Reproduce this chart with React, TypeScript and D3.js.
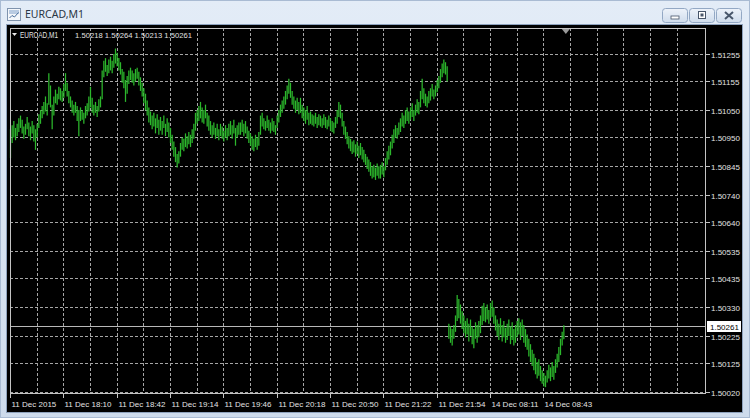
import React from "react";
import * as d3 from "d3";

// ---- data ----
const windowTitle = "EURCAD,M1";
const symbolName = "EURCAD,M1";
const lastOHLC = [1.50218, 1.50264, 1.50213, 1.50261];
const lastPrice = 1.50261;

const priceTicks = [
  1.51255, 1.51155, 1.5105, 1.5095, 1.50845, 1.5074, 1.5064, 1.50535, 1.50435, 1.5033, 1.50225, 1.50125, 1.5002,
];

const timeLabels = [
  "11 Dec 2015", "11 Dec 18:10", "11 Dec 18:42", "11 Dec 19:14", "11 Dec 19:46", "11 Dec 20:18",
  "11 Dec 20:50", "11 Dec 21:22", "11 Dec 21:54", "14 Dec 08:11", "14 Dec 08:43",
];
const barsPerLabel = 32;
const barsPerGrid = 16;
const visibleBars = 417.6;

const highs = [
  1.50980,1.50995,1.51010,1.50985,1.51000,1.51020,
  1.51030,1.51015,1.50990,1.51000,1.51025,1.51005,
  1.50990,1.51010,1.50995,1.50980,1.51000,1.51035,
  1.51050,1.51065,1.51080,1.51100,1.51075,1.51185,
  1.51140,1.51070,1.51100,1.51125,1.51110,1.51135,
  1.51130,1.51120,1.51145,1.51185,1.51150,1.51120,
  1.51100,1.51085,1.51070,1.51080,1.51065,1.51050,
  1.51060,1.51050,1.51040,1.51065,1.51075,1.51100,
  1.51135,1.51095,1.51070,1.51080,1.51065,1.51090,
  1.51100,1.51195,1.51230,1.51240,1.51215,1.51235,
  1.51245,1.51230,1.51255,1.51275,1.51260,1.51240,
  1.51225,1.51200,1.51190,1.51160,1.51175,1.51195,
  1.51205,1.51195,1.51185,1.51200,1.51205,1.51190,
  1.51170,1.51150,1.51130,1.51110,1.51085,1.51060,
  1.51045,1.51030,1.51040,1.51020,1.51035,1.51015,
  1.51025,1.51010,1.51030,1.51000,1.51020,1.51005,
  1.50985,1.50960,1.50935,1.50915,1.50890,1.50900,
  1.50930,1.50950,1.50945,1.50965,1.50955,1.50970,
  1.50960,1.50980,1.51000,1.51040,1.51050,1.51065,
  1.51080,1.51060,1.51050,1.51070,1.51040,1.51030,
  1.51010,1.50995,1.51005,1.50985,1.51000,1.50980,
  1.51000,1.50990,1.50975,1.50995,1.50985,1.51000,
  1.51010,1.50995,1.51015,1.50985,1.50995,1.51005,
  1.51005,1.51015,1.51000,1.51010,1.50990,1.50975,
  1.50965,1.50955,1.50945,1.50960,1.50950,1.50970,
  1.51030,1.51040,1.51020,1.51010,1.51030,1.51015,
  1.51005,1.51020,1.51010,1.50995,1.51030,1.51050,
  1.51070,1.51085,1.51100,1.51120,1.51140,1.51165,
  1.51150,1.51120,1.51100,1.51085,1.51095,1.51080,
  1.51095,1.51070,1.51060,1.51050,1.51065,1.51040,
  1.51045,1.51035,1.51030,1.51040,1.51025,1.51035,
  1.51030,1.51020,1.51035,1.51025,1.51015,1.51030,
  1.51020,1.51010,1.51005,1.51025,1.51050,1.51080,
  1.51070,1.51040,1.51010,1.50990,1.50970,1.50955,
  1.50945,1.50935,1.50940,1.50925,1.50935,1.50920,
  1.50930,1.50915,1.50905,1.50890,1.50880,1.50870,
  1.50860,1.50845,1.50850,1.50840,1.50855,1.50845,
  1.50850,1.50860,1.50845,1.50875,1.50900,1.50920,
  1.50935,1.50960,1.50980,1.50995,1.50985,1.51005,
  1.51020,1.51040,1.51030,1.51050,1.51060,1.51045,
  1.51060,1.51075,1.51050,1.51070,1.51090,1.51080,
  1.51120,1.51165,1.51130,1.51110,1.51100,1.51120,
  1.51130,1.51145,1.51125,1.51140,1.51160,1.51175,
  1.51200,1.51220,1.51235,1.51225,1.51210,
  1.50270,1.50260,1.50250,1.50265,1.50300,1.50375,1.50360,1.50340,1.50315,1.50300,
  1.50280,1.50290,1.50270,1.50285,1.50260,1.50250,1.50275,1.50265,1.50280,1.50300,
  1.50335,1.50345,1.50330,1.50340,1.50320,1.50345,1.50355,1.50330,1.50300,1.50285,
  1.50270,1.50290,1.50265,1.50280,1.50255,1.50270,1.50285,1.50260,1.50275,1.50250,
  1.50265,1.50280,1.50290,1.50275,1.50285,1.50265,1.50250,1.50230,1.50215,1.50195,
  1.50175,1.50160,1.50145,1.50130,1.50140,1.50115,1.50100,1.50090,1.50080,1.50100,
  1.50120,1.50110,1.50130,1.50115,1.50140,1.50160,1.50185,1.50215,1.50240,1.50264,
];

const lows = [
  1.50875,1.50930,1.50950,1.50940,1.50955,1.50970,
  1.50985,1.50965,1.50945,1.50960,1.50980,1.50955,
  1.50940,1.50965,1.50935,1.50905,1.50950,1.50985,
  1.51000,1.51020,1.51035,1.51045,1.51030,1.51070,
  1.51060,1.50980,1.51030,1.51075,1.51070,1.51090,
  1.51085,1.51080,1.51095,1.51120,1.51100,1.51075,
  1.51060,1.51040,1.51030,1.51040,1.51010,1.50955,
  1.51010,1.51015,1.51000,1.51020,1.51030,1.51045,
  1.51060,1.51040,1.51030,1.51040,1.51025,1.51045,
  1.51060,1.51090,1.51170,1.51190,1.51175,1.51185,
  1.51195,1.51185,1.51205,1.51220,1.51210,1.51195,
  1.51180,1.51150,1.51130,1.51080,1.51110,1.51145,
  1.51160,1.51150,1.51140,1.51155,1.51165,1.51140,
  1.51120,1.51100,1.51075,1.51050,1.51030,1.51005,
  1.50995,1.50980,1.50990,1.50965,1.50985,1.50960,
  1.50975,1.50960,1.50985,1.50955,1.50970,1.50950,
  1.50930,1.50905,1.50880,1.50860,1.50840,1.50855,
  1.50880,1.50905,1.50900,1.50915,1.50910,1.50925,
  1.50915,1.50930,1.50945,1.50975,1.51000,1.51010,
  1.51020,1.51005,1.51000,1.51020,1.50990,1.50975,
  1.50960,1.50950,1.50960,1.50945,1.50955,1.50940,
  1.50955,1.50945,1.50935,1.50950,1.50940,1.50955,
  1.50960,1.50945,1.50965,1.50920,1.50950,1.50960,
  1.50960,1.50970,1.50955,1.50965,1.50945,1.50930,
  1.50920,1.50905,1.50900,1.50915,1.50905,1.50920,
  1.50960,1.50990,1.50980,1.50975,1.50985,1.50975,
  1.50965,1.50975,1.50970,1.50960,1.50985,1.51005,
  1.51025,1.51040,1.51055,1.51070,1.51090,1.51110,
  1.51095,1.51070,1.51055,1.51040,1.51050,1.51035,
  1.51040,1.51020,1.51010,1.51000,1.51015,1.50995,
  1.51000,1.50995,1.50990,1.51000,1.50985,1.50995,
  1.50990,1.50985,1.50995,1.50985,1.50980,1.50990,
  1.50975,1.50970,1.50965,1.50985,1.51000,1.51025,
  1.51020,1.50990,1.50960,1.50945,1.50925,1.50910,
  1.50900,1.50890,1.50895,1.50880,1.50890,1.50875,
  1.50885,1.50870,1.50860,1.50850,1.50835,1.50825,
  1.50810,1.50800,1.50805,1.50795,1.50810,1.50800,
  1.50800,1.50815,1.50805,1.50830,1.50850,1.50870,
  1.50885,1.50910,1.50930,1.50950,1.50945,1.50960,
  1.50970,1.50990,1.50985,1.51000,1.51010,1.51000,
  1.51015,1.51025,1.51010,1.51030,1.51040,1.51035,
  1.51060,1.51090,1.51075,1.51065,1.51060,1.51075,
  1.51085,1.51100,1.51090,1.51100,1.51115,1.51130,
  1.51150,1.51170,1.51185,1.51180,1.51155,
  1.50215,1.50200,1.50190,1.50215,1.50240,1.50280,1.50290,1.50270,1.50250,1.50235,
  1.50220,1.50230,1.50205,1.50225,1.50195,1.50180,1.50215,1.50200,1.50220,1.50235,
  1.50265,1.50280,1.50275,1.50285,1.50270,1.50290,1.50295,1.50270,1.50245,1.50225,
  1.50210,1.50230,1.50205,1.50220,1.50200,1.50210,1.50225,1.50195,1.50210,1.50190,
  1.50200,1.50220,1.50230,1.50210,1.50225,1.50200,1.50185,1.50175,1.50150,1.50130,
  1.50115,1.50100,1.50085,1.50070,1.50080,1.50060,1.50050,1.50040,1.50038,1.50055,
  1.50070,1.50060,1.50075,1.50065,1.50090,1.50110,1.50130,1.50155,1.50190,1.50213,
];

const FONT = "'Liberation Sans', Arial, sans-serif";

export default function App() {
  const W = 750;
  const H = 418;
  const P = { left: 10, right: 706, top: 28, bottom: 394 };

  const x = d3.scaleLinear().domain([0, visibleBars]).range([P.left, P.right]);
  const y = d3.scaleLinear().domain([1.50013, 1.5135]).range([P.bottom, P.top]);

  const gridBars = d3.range(barsPerGrid, visibleBars - 2, barsPerGrid);
  const bars = highs.map((h, i) => ({ i, h, l: lows[i] }));
  const lastIndex = highs.length - 1;
  const shiftX = x(lastIndex) + 2.5;
  const yLast = Math.round(y(lastPrice)) + 0.5;

  const gridColor = "#a6a6a6";
  const textColor = "#e2e2e2";

  return (
    <div style={{ position: "fixed", left: 0, top: 0, width: W, height: H }}>
      <svg width={W} height={H} style={{ display: "block" }}>
        <defs>
          <linearGradient id="frame" x1="0" y1="0" x2="0" y2="1">
            <stop offset="0" stopColor="#e3ecf7" />
            <stop offset="1" stopColor="#cddbec" />
          </linearGradient>
          <linearGradient id="btn" x1="0" y1="0" x2="0" y2="1">
            <stop offset="0" stopColor="#eef3fa" />
            <stop offset="1" stopColor="#cfdcec" />
          </linearGradient>
        </defs>
        {/* window frame */}
        <rect x={0} y={0} width={W} height={H} fill="url(#frame)" />
        <rect x={0.5} y={0.5} width={W - 1} height={H - 1} fill="none" stroke="#a9bbd3" />
        {/* title icon */}
        <g>
          <rect x={7.5} y={8.5} width={13} height={12} fill="#f4f7fb" stroke="#7f93ad" />
          <rect x={9} y={10} width={10} height={4} fill="#b9cbe2" />
          <path d="M9.5 18 L12 15.5 L14.5 17 L18.5 12.5" fill="none" stroke="#4b6f9c" strokeWidth={1} />
        </g>
        <text x={25} y={18} fontFamily="'Noto Sans', 'Open Sans', sans-serif" fontSize={10.5} fill="#2a3645">
          {windowTitle}
        </text>
        {/* window buttons */}
        {[662, 689, 716].map((bx, k) => (
          <g key={k}>
            <rect x={bx + 0.5} y={8.5} width={25} height={14} rx={3} fill="url(#btn)" stroke="#93a8c4" />
            {k === 0 && <rect x={bx + 9} y={16} width={8} height={3} fill="#fff" stroke="#48566a" strokeWidth={0.8} />}
            {k === 1 && <rect x={bx + 9.5} y={11.5} width={7} height={7} fill="#fff" stroke="#48566a" strokeWidth={1} />}
            {k === 1 && <rect x={bx + 11.5} y={13.5} width={3} height={3} fill="#48566a" />}
            {k === 2 && (
              <path d={`M${bx + 9} ${12} L${bx + 17} ${19} M${bx + 17} ${12} L${bx + 9} ${19}`} stroke="#48566a" strokeWidth={2} />
            )}
          </g>
        ))}
        {/* client (black) area */}
        <rect x={7} y={25} width={735} height={387} fill="#000" />
        <rect x={6.5} y={24.5} width={736} height={388} fill="none" stroke="#8ea2bd" />

        {/* grid */}
        <g stroke={gridColor} strokeWidth={1} strokeDasharray="3,2">
          {priceTicks.map((p) => (
            <line key={p} x1={P.left} x2={P.right} y1={Math.round(y(p)) + 0.5} y2={Math.round(y(p)) + 0.5} />
          ))}
          {gridBars.map((b) => (
            <line key={b} x1={Math.round(x(b)) + 0.5} x2={Math.round(x(b)) + 0.5} y1={P.top} y2={P.bottom} />
          ))}
        </g>

        {/* current price line */}
        <line x1={P.left} x2={P.right} y1={yLast} y2={yLast} stroke="#b8b8b8" strokeWidth={1} />

        {/* bars */}
        <g stroke="#2cb82c" strokeWidth={1.25}>
          {bars.map((d) => (
            <line key={d.i} x1={x(d.i) + 0.5} x2={x(d.i) + 0.5} y1={y(d.h)} y2={y(d.l)} />
          ))}
        </g>

        {/* plot frame */}
        <rect x={P.left + 0.5} y={P.top + 0.5} width={P.right - P.left - 1} height={P.bottom - P.top - 1} fill="none" stroke="#c4c4c4" />

        {/* chart shift marker */}
        <path d={`M${shiftX - 4} ${P.top + 1} L${shiftX + 4} ${P.top + 1} L${shiftX} ${P.top + 6} Z`} fill="#9a9a9a" />

        {/* right price axis */}
        <g fontFamily={FONT} fontSize={8} fill={textColor}>
          {priceTicks.map((p) => {
            const yy = Math.round(y(p)) + 0.5;
            return (
              <g key={p}>
                <line x1={P.right} x2={P.right + 4} y1={yy} y2={yy} stroke="#c4c4c4" />
                <text x={P.right + 5} y={yy + 3}>
                  {p.toFixed(5)}
                </text>
              </g>
            );
          })}
        </g>
        {/* last price label */}
        <rect x={P.right + 1} y={yLast - 5.5} width={34} height={11} fill="#fff" />
        <text x={P.right + 4} y={yLast + 3} fontFamily={FONT} fontSize={8} fill="#000">
          {lastPrice.toFixed(5)}
        </text>

        {/* time axis */}
        <g fontFamily={FONT} fontSize={8} fill={textColor}>
          {timeLabels.map((t, k) => {
            const xx = Math.round(x(k * barsPerLabel)) + 0.5;
            return (
              <g key={t}>
                <line x1={xx} x2={xx} y1={P.bottom} y2={P.bottom + 4} stroke="#c4c4c4" />
                <text x={xx + 1} y={407}>
                  {t}
                </text>
              </g>
            );
          })}
        </g>

        {/* top-left info */}
        <path d="M12 33 L17 33 L14.5 36 Z" fill="#e8e8e8" />
        <text x={20} y={38} fontFamily={FONT} fontSize={8.5} fill={textColor} textLength={38} lengthAdjust="spacingAndGlyphs">
          {symbolName}
        </text>
        <text x={75} y={38} fontFamily={FONT} fontSize={8} fill={textColor} textLength={117} lengthAdjust="spacingAndGlyphs">
          {lastOHLC.map((v) => v.toFixed(5)).join(" ")}
        </text>
      </svg>
    </div>
  );
}
